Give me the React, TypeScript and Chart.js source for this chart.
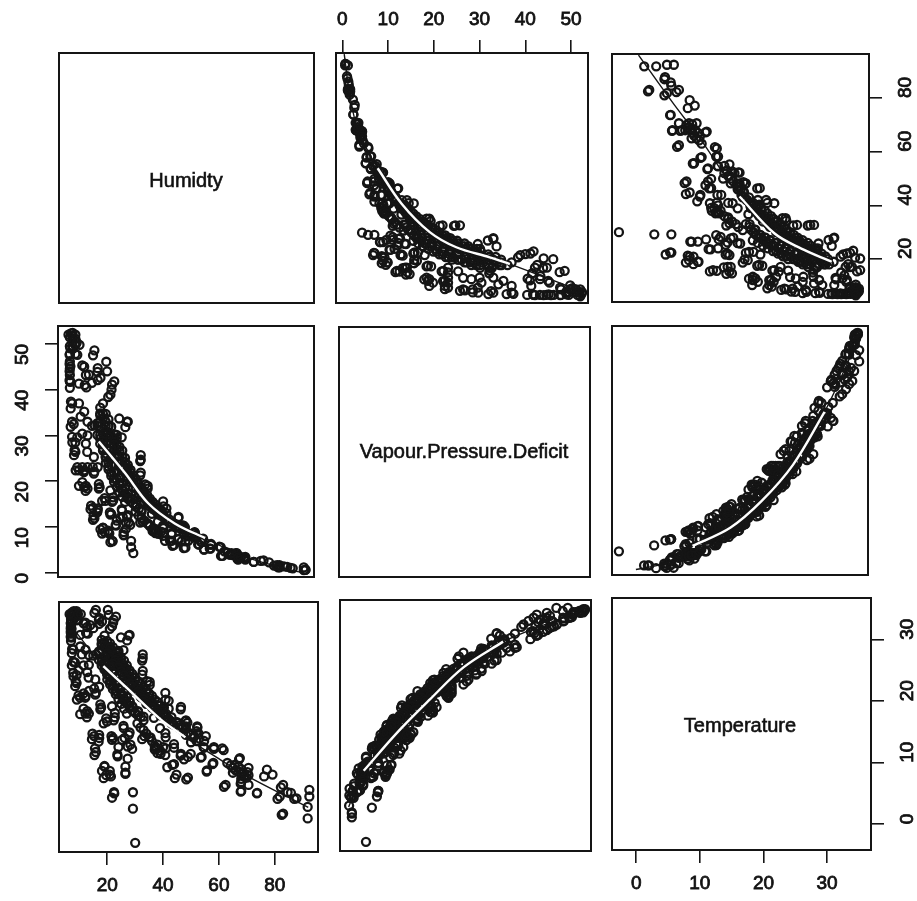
import React, { useEffect, useRef } from "react";
import { Chart, registerables } from "chart.js";

Chart.register(...registerables);

const humidity = [
  18,19,18,20,20,21,21,22,20,23,
  22,24,23,25,24,26,25,27,26,28,
  27,29,28,30,31,30,32,33,32,34,
  35,35,36,37,37,39,40,39,41,42,
  43,45,46,47,48,21,22,24,24,25,
  26,27,28,29,30,31,32,33,34,35,
  36,37,38,39,40,
  17,16,18,18,19,19,20,20,21,22,
  21,23,22,24,23,25,25,26,26,27,
  28,28,29,30,20,21,22,23,24,25,
  26,27,28,29,31,31,33,33,
  40,39,37,38,41,38,36,35,34,33,
  50,51,49,52,52,53,50,
  65,66,67,68,69,70,67,65,68,68,
  8,8,8,9,9,9,9,8,8,
  7,7,7,7,7,7,7,7,
  15.4,20.5,22.3,18.1,11.5,13.9,21.7,10.3,27.1,7.3,
  10.9,7.3,11.5,32.5,7.9,13.3,15.7,8.5,9.1,15.7,
  12.1,17.5,10.3,12.7,22.3,18.7,21.7,14.5,16.9,21.7,
  25.3,27.7,25.9,28.9,23.7,27.3,15.4,18.1,18.7,21.3,
  26.5,29.2,21.7,29.2,30,32.5,34.3,40.9,46.3,48.1,
  40.9,46.3,41.5,43.9,44.2,48.3,55.3,54.7,58.2,61.2,
  57.7,55.6,67.2,61.8,67.8,73.6,77.2,76.2,79.2,82.2,
  81,84.6,87,82.5,92.4,92.4,91.8,91.8,36.7,31.9,
  32.5,35.5,37.3,39.1,43.9,47.5,49.9,53.5,51.1,48.7,
  52.3,43.9,40.3,64.2,70.2,67.8,
  83,87.8,85.8,83,81.8,73.7,70.6,68,68,70.6,
  70.6,67.5,68.8,65.6,63,62.4,61.7,58.2,58,55.7,
  53.8,54.5,54.7,52.6,52.2,48.2,48.2,48.2,48.9,46.4,
  48.9,44.8,43.3,43.9,40.8,37.7,37,40.8,38.9,33.3,
  30.8,32,46.4,42,42,40.8,35.2,32.7,32.7,25.8,
  27.7,26.5,22.5,23.6,28.3,26.2,28,25.8,20.9,19.6,
  19,15.9,22,17.1,15.3,22.7,19.9,17.8,13.4,12.2,
  12.2,10.3,15.9,9,9,9.7,8.4,7.8,7.2,7.2,
  23.1,20.2,15.9,22.1,17,20.9,
  19,17.1,17.1,15,13,13.4,13.4,12.8,8.7,7.8,
  7.8,7.4,6.9,6.9,6.9,6.9,7.2,7.4,9,9.7,
  12.4,12.8,12.2,12.2,10.3,32.7,28,24.9,35.2,17.5,
  12.8,11.5,17.1,15.3,13.4,11.5,9.7,17.1,15.6,14.7,
  19,22.4,20.9,26.5,27.3,24,21.5,19.6,22.7,
  20,18,19,21,18,23,20,23,21,24,
  23,25,22,26,24,27,25,28,26,29,
  27,30,28,31,29,32,31,34,32,35,
  33,36,34,38,36,40,38,41,40,43,
  42,45,43,47,46,
  17,15,19,17,19,18,21,19,22,20,
  23,20,24,21,25,22,26,23,27,24,
  28,25,29,26,31,27,
  9.5,10.5,6.5,
];

const vapourDeficit = [
  36.1,34.7,34.4,33,32.1,32,30.6,29.8,30.2,28.8,
  28.2,27.1,26.8,25.5,25.5,24.4,24.2,23.1,22.6,21.7,
  21.8,20.6,20.5,19.7,18.6,18.7,18,17.2,17.1,16.4,
  15.8,15.4,15,14.3,14,13.4,12.9,12.8,12.2,11.7,
  11.2,10.7,10.2,9.8,9.5,33.5,31.9,30.1,29.4,27.5,
  26.7,25.1,23.6,22.5,21.3,20.3,19.4,18.6,17.8,17,
  16.2,15.5,14.9,14,13.4,
  32.7,32.2,30.1,29.3,28,27.2,26.1,25.4,24.1,23.5,
  23.2,21.9,21.9,20.5,20.6,19.6,19.1,18.4,18,17.3,
  16.6,16.2,15.6,15.1,28.2,26.9,25,23.5,22.1,20.8,
  19.5,18.4,17.3,16.2,14.9,14.4,13.8,13.4,
  9,8.8,9.1,8.7,8.8,9.5,10.2,10.8,11.4,12,
  8.5,8.1,8.9,7.7,8.6,7.7,8,
  4,3.9,3.8,3.5,3.3,3.2,4,4,3.8,3.4,
  48.9,49.6,51.2,51.1,52,49.8,47.8,51.7,52.4,
  40.4,41.8,43.2,44.6,46.2,47.8,49.5,51.4,
  47.5,44,41.1,42.6,45.3,43.3,38.9,41.3,31.8,35.9,
  34.1,31.9,30.4,24.4,28.5,26.4,25.3,25.7,22.4,21.7,
  22,18.4,19,17.9,15.5,15.7,18,13.9,13.2,12.7,
  12.1,12.3,13.6,10.5,10.3,9.6,11.6,9.5,8.6,8.6,
  8.2,7,6.7,5.6,4.3,21.3,19.3,14.5,12,10.3,
  9.8,7.3,7,7,5.9,5.4,7.5,6.7,6.1,5.7,
  5.3,5.1,4.3,3.7,3,2.4,2.7,2.6,2.3,1.7,
  1.6,1.4,1.1,1.2,0.7,0.65,0.6,1.2,12.9,12.5,
  11,10.7,9.3,8.5,8.4,6.9,7,6.2,8.2,10,
  8.8,10.7,13.6,4.4,3.4,3.2,
  1.2,1,1.3,1.7,1.6,2.4,2.9,2.9,3.3,3.2,
  3.5,4.3,3.5,4.3,4.7,3.7,5.6,6.3,5.3,5.1,
  6.2,6.8,7.2,8.2,8.9,10.3,9.7,8.8,6.9,7.5,
  5.5,6.1,7,8.7,8.1,9.2,9.6,10.3,11.2,11.2,
  13.4,14,12.2,13,14.1,15.6,18.4,21.9,24.7,29.6,
  33,8.3,6.9,10.5,11,12.2,12.6,13.9,8.8,8.9,
  9.8,11.9,12.9,13.7,14.2,15.8,15.7,18.7,18.4,18.7,
  22.4,22.4,22.1,26.4,28.5,29.6,32.5,37,41.7,45.1,
  41.8,46.1,48.6,40,43.9,38.4,
  37,44.7,42.1,41.5,40.5,30,33,28.2,26.8,29.7,
  33,37.4,42.1,44,45.6,47.6,49,52.3,49.8,47.6,
  41,43.2,45,35.2,37,25.7,33,33.7,19,19.4,
  19,19.8,23.1,23.1,23.1,23.1,23.1,14.1,12.5,14.7,
  9.9,7,9.2,8.9,11,11.4,13.2,16.3,16.5,
  34.7,34.8,33.8,32.2,32.9,30.3,31,29.3,29.7,27.9,
  28,26.6,27.3,25.3,25.7,24.2,24.3,23,23.2,21.9,
  21.9,20.7,20.9,19.5,19.8,18.5,18.4,17.4,17.4,16.3,
  16.5,15.4,15.5,14.4,14.5,13.3,13.6,12.6,12.5,11.7,
  11.6,10.7,11,10,9.9,
  32.1,32.1,30.3,30.1,28.8,28.2,26.7,26.7,25.2,25.2,
  23.7,24,22.3,22.6,20.9,21.2,19.7,19.9,18.5,18.8,
  17.4,17.6,16.3,16.6,15.1,15.5,
  50.3,49.8,52,
];

const temperature = [
  30.6,30.2,29.8,29.5,29,29.2,28.6,28.2,28,27.8,
  27.4,27,26.6,26.2,26,25.7,25.3,25,24.6,24.2,
  24,23.6,23.2,23,22.6,22.2,22,21.6,21.2,21,
  20.6,20.2,20,19.6,19.2,19,18.6,18.2,18,17.6,
  17.2,17,16.6,16.2,16,30,29.4,28.8,28.4,27.6,
  27.2,26.4,25.6,25,24.4,23.8,23.4,22.8,22.4,21.8,
  21.4,20.8,20.4,19.8,19.4,
  28.7,28.2,27.6,27,26.5,26,25.5,25,24.6,24.2,
  23.8,23.4,23,22.6,22.2,21.8,21.4,21,20.6,20.2,
  19.8,19.4,19,18.6,26.8,26.2,25.2,24.4,23.6,22.8,
  22,21.2,20.4,19.6,18.8,18.2,18,17.4,
  13,12.4,12.6,12,12.8,13.4,14,14.6,15.2,15.8,
  15,14.6,15.4,14,15.6,14.4,13.8,
  9.6,9.2,9,8.6,8.2,8,9.8,8.8,9.4,7.8,
  34,34.4,34.8,35,35.3,34.6,33.8,35,35.3,
  30.4,31,31.6,32.2,32.8,33.4,34,34.7,
  35,34.7,33.9,33.6,33.3,33,32.8,31.4,30.5,28.4,
  28.2,26.4,26.4,27.2,24.6,24.4,24.1,23,20.8,21.6,
  21.1,19.2,18.4,17.9,17.4,16.9,19.7,14.3,13.9,14.2,
  14.2,15,16.1,12.7,11.5,11.1,11.7,9.1,7.9,8.2,
  8.6,5.6,4.7,2.9,-2.7,24.9,23.8,20.8,19.2,17.3,
  14.6,11.6,9.7,10.2,7.9,7.7,14.8,12.9,12.7,12.8,
  10.2,9,11,6.5,5.7,5.4,9.3,8.2,8.5,6.4,
  4.5,5.6,4.5,1.9,6,4.9,3.2,1.3,17.8,16.2,
  14.3,14.6,12.9,11.9,12.9,11,11.9,11.3,14.8,17,
  16.2,16.7,19.5,10,8.9,7,
  2.1,4.6,5.5,6.8,4.9,5.5,6.8,5.8,7.3,8.4,
  9.6,11.2,8.8,10.1,10.4,6.8,12.5,13,10.4,9.2,
  11.4,13,14,15.3,16.4,17.4,16.4,15,11.4,11.9,
  8,8.5,10.1,13.5,11.7,12.7,13.2,15.3,16.1,14.8,
  16.9,18,19.6,19.3,20.6,21.9,23.2,25.5,27.6,28.9,
  31.3,8.8,5.4,11.8,13.4,14.5,15.4,16.5,8.5,8.4,
  9.8,12.2,14.5,14.5,14.8,17.9,17.2,19.5,18.5,18.5,
  21.4,21.1,21.9,23.5,24.8,25.6,26.9,29,31,32.4,
  34.4,35.5,35.5,33.4,33.9,32.4,
  31.3,34.2,33.2,32.5,31.6,26.5,28.1,25.3,23.8,25.2,
  27,29.1,31.1,31.9,32.5,33.3,33.9,35.1,34.5,33.9,
  31.7,32.7,33.4,29,29.5,28.2,31.4,31,23.7,20,
  18.9,19.3,22.9,22.6,22.2,21.8,21.5,15,12.8,15.2,
  9.9,5.6,9.1,9.8,13.1,13,14.8,17.7,18.6,
  30.4,30,29.7,29.3,29,28.7,28.4,28.1,27.9,27.5,
  27.3,26.9,26.7,26.3,26.1,25.8,25.4,25.1,24.8,24.5,
  24.1,23.9,23.5,23.1,22.9,22.5,22.1,21.9,21.5,21.1,
  20.9,20.5,20.1,19.9,19.5,19.1,18.9,18.5,18.1,17.9,
  17.5,17.1,16.9,16.5,16.1,
  28.4,28,27.8,27.3,26.9,26.4,26.1,25.7,25.3,24.9,
  24.5,24.1,23.7,23.3,22.9,22.5,22.1,21.7,21.3,20.9,
  20.5,20.1,19.7,19.3,18.9,18.5,
  34.8,34.8,34.8,
];

const humidityTicks = [20, 40, 60, 80];
const deficitTicks = [0, 10, 20, 30, 40, 50];
const temperatureTicks = [0, 10, 20, 30];

const smoothDeficitForHumidity = [0.4, 1.5, 3, 5, 7.7, 12.9, 19.1, 24.9, 32.2, 36.6, 42, 52.7];
const smoothHumidityOnDeficit = [96, 82, 70, 62, 53.8, 40.8, 30.2, 24.6, 20.9, 18.4, 15, 8];
const smoothTempForHumidity = [0.4, 5.9, 10.4, 16.4, 21.9, 26.1, 31];
const smoothHumidityOnTemp = [96, 78, 64, 43.3, 29.6, 24, 19];
const smoothHumidityForDeficit = [17.5, 27, 35.4, 45, 56, 70, 88, 92];
const smoothDeficitOnHumidity = [28.7, 21.8, 15.2, 10.8, 7.6, 3.6, 0.5, 0];
const smoothTempForDeficit = [0, 5, 9, 15, 20, 25, 30, 35];
const smoothDeficitOnTemp = [0.3, 1.9, 5.5, 9.5, 15.4, 23.4, 35, 50];
const smoothHumidityForTemp = [6, 18.6, 27, 39, 48, 61, 70, 92];
const smoothTempOnHumidity = [33.5, 26.3, 22.7, 17.6, 14.6, 10.8, 8.3, 3.1];
const smoothDeficitForTemp = [0.5, 3.8, 11.1, 18.4, 25.7, 34.4, 50.6, 52.5];
const smoothTempOnDeficit = [3, 8.9, 15.1, 20.6, 25.8, 30, 34.8, 35.6];

const xRange = { H: [2.7, 95.5], V: [-1.4, 53.7], T: [-3.8, 36.9] };
const yRange = { H: [4, 96.4], V: [-0.9, 53.9], T: [-4.2, 36.8] };
const series: any = { H: humidity, V: vapourDeficit, T: temperature };
const ticksOf: any = { H: humidityTicks, V: deficitTicks, T: temperatureTicks };

const FONT = "'Liberation Sans', Arial, sans-serif";
const M = 62;
const tickPadding: any = { top: 9, bottom: 9, left: 22, right: 24 };

const panels: any[] = [
  { box: [59, 53, 314, 303], label: "Humidty", labelPos: [186, 181] },
  { box: [336, 53, 588, 303], x: "V", y: "H", xAxis: "top", sx: smoothDeficitForHumidity, sy: smoothHumidityOnDeficit, w: [4, 9] },
  { box: [612, 54, 869, 302], x: "T", y: "H", yAxis: "right", sx: smoothTempForHumidity, sy: smoothHumidityOnTemp, w: [3, 6] },
  { box: [58, 326, 314, 577], x: "H", y: "V", yAxis: "left", sx: smoothHumidityForDeficit, sy: smoothDeficitOnHumidity, w: [0, 4] },
  { box: [339, 327, 590, 577], label: "Vapour.Pressure.Deficit", labelPos: [464, 452] },
  { box: [612, 326, 868, 575], x: "T", y: "V", sx: smoothTempForDeficit, sy: smoothDeficitOnTemp, w: [2, 6] },
  { box: [59, 602, 318, 852], x: "H", y: "T", xAxis: "bottom", sx: smoothHumidityForTemp, sy: smoothTempOnHumidity, w: [1, 4] },
  { box: [340, 600, 591, 851], x: "V", y: "T", sx: smoothDeficitForTemp, sy: smoothTempOnDeficit, w: [1, 5] },
  { box: [612, 598, 871, 850], x: "T", y: "T", label: "Temperature", labelPos: [740, 726], xAxis: "bottom", yAxis: "right", diag: true },
];

function zip(xs: number[], ys: number[]) {
  return xs.map((x, i) => ({ x, y: ys[i] }));
}

function axisOptions(key: string, range: number[], position: string | undefined, horizontal: boolean) {
  const shown = !!position;
  return {
    type: "linear",
    display: shown,
    position: position || (horizontal ? "bottom" : "left"),
    min: range[0],
    max: range[1],
    border: { display: false },
    grid: {
      display: true,
      drawOnChartArea: false,
      drawTicks: true,
      tickLength: 13,
      lineWidth: 1.6,
      color: "#151515",
    },
    ticks: {
      autoSkip: false,
      color: "#111",
      padding: position ? tickPadding[position] : 0,
      textStrokeColor: "#111",
      textStrokeWidth: 0.8,
      font: { family: FONT, size: 19 },
      ...(horizontal ? { maxRotation: 0, minRotation: 0 } : { minRotation: 90, maxRotation: 90 }),
    },
    afterBuildTicks: (s: any) => {
      s.ticks = ticksOf[key].map((value: number) => ({ value }));
    },
    afterFit: (s: any) => {
      if (!shown) return;
      if (horizontal) s.height = M;
      else s.width = M;
    },
  };
}

function Panel({ spec }: { spec: any }) {
  const ref = useRef<HTMLCanvasElement>(null);
  const [l, t, r, b] = spec.box;
  const w = r - l + 2 * M;
  const h = b - t + 2 * M;

  useEffect(() => {
    const datasets: any[] = [];
    if (spec.sx) {
      const line = zip(spec.sx, spec.sy);
      datasets.push({
        data: line.slice(spec.w[0], spec.w[1] + 1),
        showLine: true,
        borderColor: "#ffffff",
        borderWidth: 2.4,
        pointRadius: 0,
        tension: 0.35,
        order: 1,
      });
      datasets.push({
        data: line,
        showLine: true,
        borderColor: "#151515",
        borderWidth: 1.4,
        pointRadius: 0,
        tension: 0.35,
        order: 2,
      });
      datasets.push({
        data: zip(series[spec.x], series[spec.y]),
        showLine: false,
        pointRadius: 4,
        pointBorderWidth: 2.3,
        pointBorderColor: "#151515",
        pointBackgroundColor: "rgba(0,0,0,0)",
        order: 3,
      });
    }
    const frame = {
      id: "frame",
      afterDraw(c: any) {
        const a = c.chartArea;
        const g = c.ctx;
        g.save();
        g.strokeStyle = "#151515";
        g.lineWidth = 2;
        g.strokeRect(a.left, a.top, a.right - a.left, a.bottom - a.top);
        if (spec.label) {
          g.fillStyle = "#111";
          g.strokeStyle = "#111";
          g.lineWidth = 0.6;
          g.font = `20px ${FONT}`;
          g.textAlign = "center";
          g.textBaseline = "middle";
          const px = spec.labelPos[0] - l + M;
          const py = spec.labelPos[1] - t + M;
          g.fillText(spec.label, px, py);
          g.strokeText(spec.label, px, py);
        }
        g.restore();
      },
    };
    const chart = new Chart(ref.current as any, {
      type: "scatter",
      data: { datasets },
      options: {
        animation: false,
        responsive: false,
        events: [],
        layout: {
          padding: {
            left: spec.yAxis === "left" ? 0 : M,
            right: spec.yAxis === "right" ? 0 : M,
            top: spec.xAxis === "top" ? 0 : M,
            bottom: spec.xAxis === "bottom" ? 0 : M,
          },
        },
        plugins: { legend: { display: false }, tooltip: { enabled: false }, title: { display: false } },
        scales: {
          x: axisOptions(spec.x || "H", spec.x ? (xRange as any)[spec.x] : xRange.H, spec.xAxis, true),
          y: axisOptions(spec.y || "H", spec.y ? (yRange as any)[spec.y] : yRange.H, spec.yAxis, false),
        },
      } as any,
      plugins: [frame],
    });
    return () => chart.destroy();
  }, []);

  return (
    <div style={{ position: "absolute", left: l - M, top: t - M, width: w, height: h }}>
      <canvas ref={ref} width={w} height={h} style={{ filter: "blur(0.45px)" }} />
    </div>
  );
}

export default function App() {
  return (
    <div style={{ position: "absolute", left: 0, top: 0, width: 917, height: 901, overflow: "hidden", background: "#fff" }}>
      {panels.map((p, i) => (
        <Panel key={i} spec={p} />
      ))}
    </div>
  );
}
